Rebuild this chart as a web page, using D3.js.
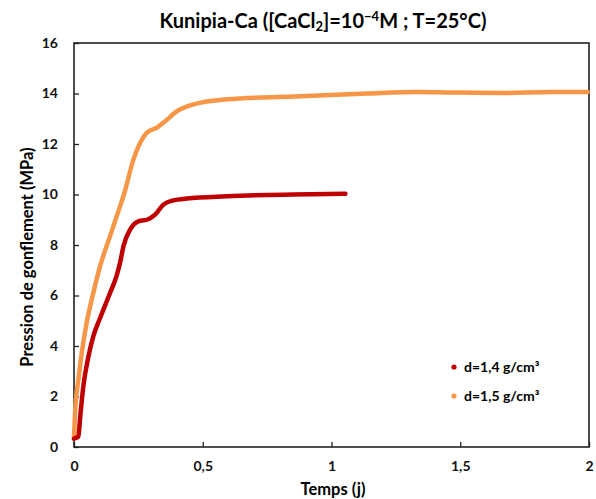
<!DOCTYPE html>
<html><head><meta charset="utf-8">
<script src="https://cdn.jsdelivr.net/npm/d3@7"></script>
<style>body{margin:0;background:#fff;} text{font-family:Lato,"Open Sans",sans-serif;font-weight:bold;}</style>
</head><body>
<svg id="c" width="596" height="499"></svg>
<script>
const xTicks = [0, 0.5, 1, 1.5, 2];
const xTickLabels = ["0", "0,5", "1", "1,5", "2"];
const yTicks = [0, 2, 4, 6, 8, 10, 12, 14, 16];
const seriesNames = ["d=1,4 g/cm³", "d=1,5 g/cm³"];
const seriesColors = ["#C00000", "#F79646"];
const d14_t = [0, 0.004, 0.017, 0.023, 0.036, 0.056, 0.075, 0.101, 0.14, 0.166, 0.18, 0.192, 0.218, 0.25, 0.283, 0.315, 0.347, 0.386, 0.438, 0.594, 0.853, 1.054];
const d14_p = [0.33, 0.35, 0.41, 1.07, 2.39, 3.58, 4.38, 5.1, 6.1, 6.8, 7.35, 7.95, 8.61, 8.94, 9.0, 9.2, 9.6, 9.77, 9.84, 9.93, 10.0, 10.03];
const d15_t = [0, 0.004, 0.017, 0.03, 0.049, 0.075, 0.101, 0.14, 0.179, 0.192, 0.231, 0.257, 0.283, 0.322, 0.354, 0.4, 0.465, 0.594, 0.853, 1.139, 1.333, 1.463, 1.658, 1.852, 1.995];
const d15_p = [0.35, 1.34, 2.66, 3.72, 4.91, 6.1, 7.15, 8.35, 9.54, 9.93, 11.39, 12.05, 12.45, 12.65, 12.9, 13.3, 13.57, 13.77, 13.88, 14.0, 14.06, 14.04, 14.02, 14.06, 14.06];

const svg = d3.select("#c");
const L = 74, R = 589, T = 43, B = 447;
const x = d3.scaleLinear().domain([0, 2]).range([L, R]);
const y = d3.scaleLinear().domain([0, 16]).range([B, T]);

// title
const title = svg.append("text").attr("x", 323).attr("y", 28).attr("text-anchor", "middle").style("font-size", "20px");
title.append("tspan").text("Kunipia-Ca ([CaCl");
title.append("tspan").text("2").style("font-size", "13px").attr("dy", 3);
title.append("tspan").text("]=10").attr("dy", -3);
title.append("tspan").text("−4").style("font-size", "13px").attr("dy", -7);
title.append("tspan").text("M ; T=25°C)").attr("dy", 7);

// axes
const xAxis = d3.axisBottom(x).tickValues(xTicks).tickFormat((d, i) => xTickLabels[i]).tickSizeInner(-5).tickSizeOuter(0).tickPadding(14);
const gx = svg.append("g").attr("transform", `translate(0,${B})`).call(xAxis);
const yAxis = d3.axisLeft(y).tickValues(yTicks).tickSizeInner(-5).tickSizeOuter(0).tickPadding(16);
const gy = svg.append("g").attr("transform", `translate(${L},0)`).call(yAxis);
[gx, gy].forEach(g => {
  g.select(".domain").remove();
  g.selectAll(".tick line").attr("stroke", "#222").attr("stroke-width", 1.3);
  g.selectAll(".tick text").style("font-size", "14px").attr("fill", "#111").style("font-family", "Lato, sans-serif").style("font-weight", "bold");
});
svg.append("rect").attr("x", x(0)).attr("y", y(16)).attr("width", x(2) - x(0)).attr("height", y(0) - y(16))
  .attr("fill", "none").attr("stroke", "#222").attr("stroke-width", 1.6);

// axis titles
svg.append("text").attr("x", 333).attr("y", 495).attr("text-anchor", "middle").style("font-size", "16.5px").text("Temps (j)");
svg.append("text").attr("transform", "translate(33,257) rotate(-90)").attr("text-anchor", "middle").style("font-size", "16.5px").text("Pression de gonflement (MPa)");

// lines
const line = d3.line().x(d => x(d[0])).y(d => y(d[1])).curve(d3.curveMonotoneX);
const s14 = d14_t.map((t, i) => [t, d14_p[i]]);
const s15 = d15_t.map((t, i) => [t, d15_p[i]]);
const g = svg.append("g");
g.append("path").datum(s15).attr("d", line).attr("fill", "none").attr("stroke", seriesColors[1]).attr("stroke-width", 4.5).attr("stroke-linecap", "round").attr("stroke-linejoin", "round");
g.append("path").datum(s14).attr("d", line).attr("fill", "none").attr("stroke", seriesColors[0]).attr("stroke-width", 4.5).attr("stroke-linecap", "round").attr("stroke-linejoin", "round");

// legend
seriesNames.forEach((n, i) => {
  const yy = 367 + i * 29;
  svg.append("circle").attr("cx", 454).attr("cy", yy).attr("r", 2.6).attr("fill", seriesColors[i]);
  svg.append("text").attr("x", 464).attr("y", yy + 5).style("font-size", "14px").text(n);
});
</script>
</body></html>
